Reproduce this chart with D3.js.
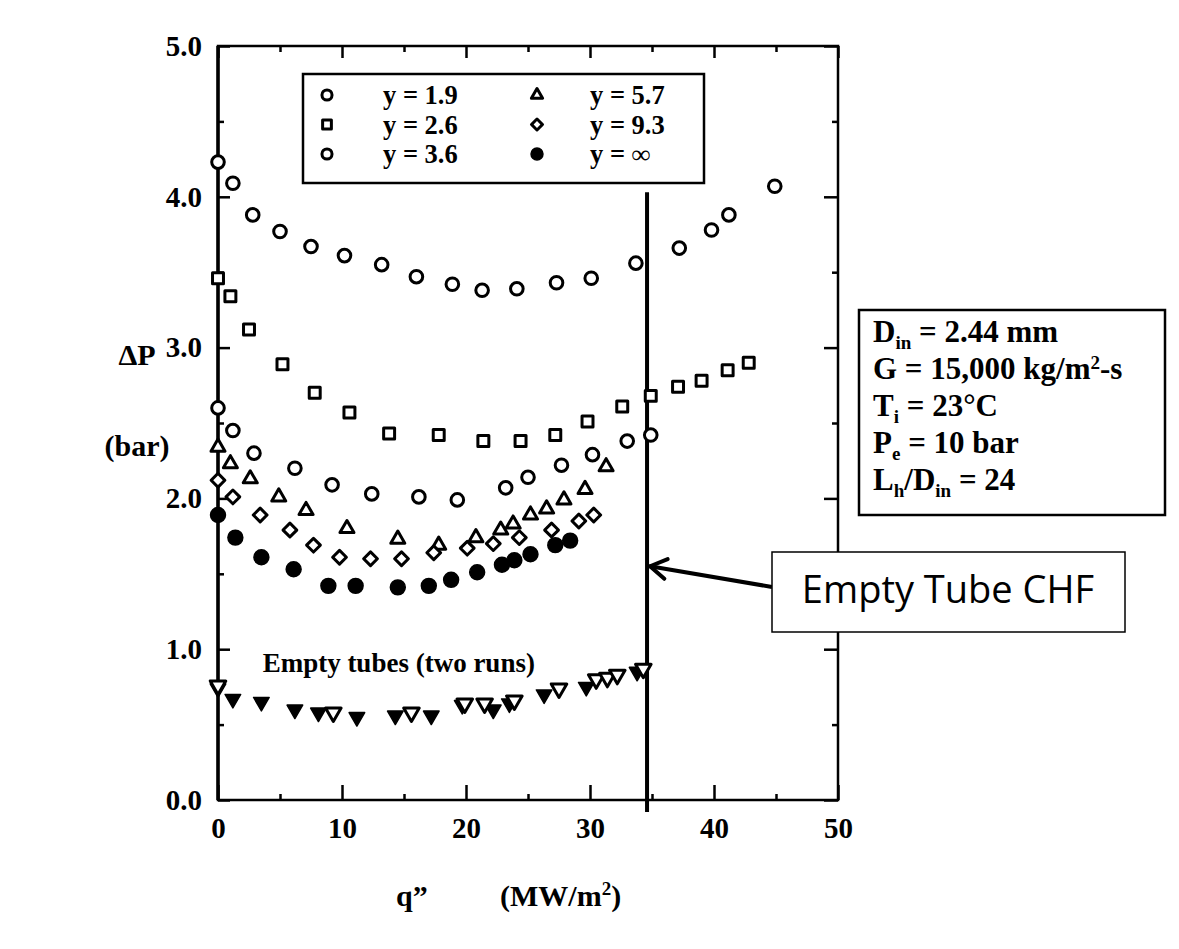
<!DOCTYPE html>
<html>
<head>
<meta charset="utf-8">
<script src="https://cdn.jsdelivr.net/npm/d3@7"></script>
<style>
  body { margin: 0; background: #fff; }
  svg { display: block; }
</style>
</head>
<body>
<svg id="chart" width="1179" height="949"></svg>
<script>
// Axis ticks
const qTicks = [0, 10, 20, 30, 40, 50];
const qMinor = [5, 15, 25, 35, 45];
const dpTicks = [0, 1, 2, 3, 4, 5];
const dpMinor = [0.5, 1.5, 2.5, 3.5, 4.5];

// Pressure drop (bar) versus heat flux (MW/m2), one list per twisted-tape ratio y
const ratio19 = [[0,4.23],[1.2,4.09],[2.8,3.88],[5.0,3.77],[7.5,3.67],[10.2,3.61],[13.2,3.55],[16.0,3.47],[18.9,3.42],[21.3,3.38],[24.1,3.39],[27.3,3.43],[30.1,3.46],[33.7,3.56],[37.2,3.66],[39.8,3.78],[41.2,3.88],[44.9,4.07]];
const ratio26 = [[0,3.46],[1.0,3.34],[2.5,3.12],[5.2,2.89],[7.8,2.70],[10.6,2.57],[13.8,2.43],[17.8,2.42],[21.4,2.38],[24.4,2.38],[27.2,2.42],[29.8,2.51],[32.6,2.61],[34.9,2.68],[37.1,2.74],[39.0,2.78],[41.1,2.85],[42.8,2.90]];
const ratio36 = [[0,2.60],[1.2,2.45],[2.9,2.30],[6.2,2.20],[9.2,2.09],[12.4,2.03],[16.2,2.01],[19.3,1.99],[23.2,2.07],[25.0,2.14],[27.7,2.22],[30.2,2.29],[33.0,2.38],[34.9,2.42]];
const ratio57 = [[0,2.34],[1.0,2.23],[2.6,2.13],[4.9,2.01],[7.1,1.92],[10.4,1.80],[14.5,1.73],[17.8,1.69],[20.8,1.74],[22.8,1.79],[23.8,1.83],[25.2,1.89],[26.5,1.93],[27.9,1.99],[29.6,2.06],[31.3,2.21]];
const ratio93 = [[0,2.12],[1.2,2.01],[3.4,1.89],[5.8,1.79],[7.7,1.69],[9.8,1.61],[12.3,1.60],[14.8,1.60],[17.4,1.64],[20.1,1.67],[22.2,1.70],[24.3,1.74],[26.9,1.79],[29.1,1.85],[30.3,1.89]];
const ratioInf = [[0,1.89],[1.4,1.74],[3.5,1.61],[6.1,1.53],[8.9,1.42],[11.1,1.42],[14.5,1.41],[17.0,1.42],[18.8,1.46],[20.9,1.51],[22.9,1.56],[23.9,1.59],[25.2,1.63],[27.2,1.69],[28.4,1.72]];

// Empty tubes, two runs
const emptyRun1 = [[0,0.74],[1.2,0.67],[3.5,0.65],[6.2,0.60],[8.1,0.58],[11.2,0.55],[14.3,0.56],[17.2,0.56],[19.7,0.63],[22.2,0.60],[23.5,0.64],[26.3,0.70],[29.7,0.75],[33.8,0.85]];
const emptyRun2 = [[0,0.76],[9.3,0.58],[15.6,0.58],[19.9,0.64],[21.5,0.64],[23.9,0.66],[27.5,0.74],[30.5,0.80],[31.4,0.81],[32.2,0.83],[34.3,0.87]];

// Critical heat flux of the empty tube (MW/m2)
const chfEmpty = 34.6;

const legendLabels = ["y = 1.9", "y = 2.6", "y = 3.6", "y = 5.7", "y = 9.3", "y = \u221E"];

// ---------------------------------------------------------------------------
const series = [
  { data: ratio19, shape: "circle", filled: false },
  { data: ratio26, shape: "square", filled: false },
  { data: ratio36, shape: "circle", filled: false },
  { data: ratio57, shape: "triangle", filled: false },
  { data: ratio93, shape: "diamond", filled: false },
  { data: ratioInf, shape: "dot", filled: true },
  { data: emptyRun1, shape: "down", filled: true },
  { data: emptyRun2, shape: "down", filled: false }
];

const svg = d3.select("#chart");
const serif = "'Liberation Serif', 'Times New Roman', serif";

const x = d3.scaleLinear().domain([0, 50]).range([218, 838]);
const y = d3.scaleLinear().domain([0, 5]).range([800, 46]);

// marker path generator
function markerPath(shape, scale = 1) {
  const s = scale;
  switch (shape) {
    case "circle": return d3.symbol(d3.symbolCircle, 125 * s * s)();
    case "square": return d3.symbol(d3.symbolSquare, 120 * s * s)();
    case "triangle": return d3.symbol(d3.symbolTriangle, 85 * s * s)();
    case "diamond": return d3.symbol(d3.symbolSquare, 95 * s * s)();
    case "dot": return d3.symbol(d3.symbolCircle, 175 * s * s)();
    case "down": return d3.symbol(d3.symbolTriangle, 105 * s * s)();
  }
}
function rotation(shape) {
  if (shape === "diamond") return 45;
  if (shape === "down") return 180;
  return 0;
}
function drawMarkers(g, s, pts, scale = 1) {
  g.selectAll(null).data(pts).enter().append("path")
    .attr("d", markerPath(s.shape, scale))
    .attr("transform", d => `translate(${d[0]},${d[1]}) rotate(${rotation(s.shape)})`)
    .attr("fill", s.filled ? "#000" : "#fff")
    .attr("stroke", "#000")
    .attr("stroke-width", s.filled ? 1.5 : 3)
    .attr("stroke-linejoin", "round");
}

// ---- axes -----------------------------------------------------------------
function styleAxis(g, fontSize) {
  g.select(".domain").remove();
  g.selectAll("line").attr("stroke", "#000").attr("stroke-width", 2.5);
  g.selectAll("text").attr("font-family", serif).attr("font-weight", "bold")
    .attr("font-size", fontSize).attr("fill", "#000");
}

svg.append("g").attr("transform", "translate(0,800)")
  .call(d3.axisBottom(x).tickValues(qTicks).tickFormat(d3.format("d")).tickSizeInner(-15).tickSizeOuter(0).tickPadding(17))
  .call(g => styleAxis(g, 29));
svg.append("g").attr("transform", "translate(0,800)")
  .call(d3.axisBottom(x).tickValues(qMinor).tickFormat("").tickSizeInner(-6).tickSizeOuter(0))
  .call(g => styleAxis(g, 29));
svg.append("g").attr("transform", "translate(0,46)")
  .call(d3.axisTop(x).tickValues(qTicks).tickFormat("").tickSizeInner(-12).tickSizeOuter(0))
  .call(g => styleAxis(g, 29));
svg.append("g").attr("transform", "translate(0,46)")
  .call(d3.axisTop(x).tickValues(qMinor).tickFormat("").tickSizeInner(-6).tickSizeOuter(0))
  .call(g => styleAxis(g, 29));

svg.append("g").attr("transform", "translate(218,0)")
  .call(d3.axisLeft(y).tickValues(dpTicks).tickFormat(d3.format(".1f")).tickSizeInner(-12).tickSizeOuter(0).tickPadding(16))
  .call(g => styleAxis(g, 29));
svg.append("g").attr("transform", "translate(218,0)")
  .call(d3.axisLeft(y).tickValues(dpMinor).tickFormat("").tickSizeInner(-6).tickSizeOuter(0))
  .call(g => styleAxis(g, 29));
svg.append("g").attr("transform", "translate(838,0)")
  .call(d3.axisRight(y).tickValues(dpTicks).tickFormat("").tickSizeInner(-14).tickSizeOuter(0))
  .call(g => styleAxis(g, 29));
svg.append("g").attr("transform", "translate(838,0)")
  .call(d3.axisRight(y).tickValues(dpMinor).tickFormat("").tickSizeInner(-6).tickSizeOuter(0))
  .call(g => styleAxis(g, 29));

// frame
svg.append("rect")
  .attr("x", x(0)).attr("y", y(5))
  .attr("width", x(50) - x(0)).attr("height", y(0) - y(5))
  .attr("fill", "none").attr("stroke", "#000").attr("stroke-width", 2.5);
svg.append("line")
  .attr("x1", x(0)).attr("x2", x(0)).attr("y1", y(5)).attr("y2", y(0))
  .attr("stroke", "#000").attr("stroke-width", 3.5);

// axis titles
svg.append("text").attr("x", 137).attr("y", 365)
  .attr("text-anchor", "middle").attr("font-family", serif).attr("font-weight", "bold")
  .attr("font-size", 30).text("\u0394P");
svg.append("text").attr("x", 137).attr("y", 456)
  .attr("text-anchor", "middle").attr("font-family", serif).attr("font-weight", "bold")
  .attr("font-size", 30).text("(bar)");
const xt = svg.append("text").attr("y", 906)
  .attr("font-family", serif).attr("font-weight", "bold").attr("font-size", 30);
xt.append("tspan").attr("x", 396).text("q\u201D");
xt.append("tspan").attr("x", 500).text("(MW/m");
xt.append("tspan").attr("dy", -11).attr("font-size", 19).text("2");
xt.append("tspan").attr("dy", 11).text(")");

// CHF line of the empty tube
svg.append("line")
  .attr("x1", x(chfEmpty)).attr("x2", x(chfEmpty))
  .attr("y1", y(4.03)).attr("y2", y(0) + 12)
  .attr("stroke", "#000").attr("stroke-width", 4);

// data markers
const plot = svg.append("g");
series.forEach(s => {
  const pts = s.data.map(d => [x(d[0]), y(d[1])]);
  drawMarkers(plot.append("g"), s, pts);
});

// empty-tube note
svg.append("text").attr("x", x(3.6)).attr("y", y(0.85))
  .attr("font-family", serif).attr("font-weight", "bold").attr("font-size", 27)
  .text("Empty tubes (two runs)");

// legend
const lg = svg.append("g");
lg.append("rect").attr("x", 303).attr("y", 74).attr("width", 401).attr("height", 109)
  .attr("fill", "#fff").attr("stroke", "#000").attr("stroke-width", 2.5);
series.slice(0, 6).forEach((s, i) => {
  const col = Math.floor(i / 3), row = i % 3;
  const mx = col === 0 ? 327 : 537;
  const tx = col === 0 ? 383 : 590;
  const cy = 95 + row * 29.5;
  drawMarkers(lg.append("g"), s, [[mx, cy]], 0.8);
  lg.append("text").attr("x", tx).attr("y", cy + 9)
    .attr("font-family", serif).attr("font-weight", "bold").attr("font-size", 26.5)
    .text(legendLabels[i]);
});

// conditions box
const cb = svg.append("g");
cb.append("rect").attr("x", 859).attr("y", 310).attr("width", 306).attr("height", 205)
  .attr("fill", "#fff").attr("stroke", "#000").attr("stroke-width", 2.5);
const lines = [
  [["D", 0], ["in", 1], [" = 2.44 mm", 0]],
  [["G = 15,000 kg/m", 0], ["2", 2], ["-s", 0]],
  [["T", 0], ["i", 1], [" = 23\u00B0C", 0]],
  [["P", 0], ["e", 1], [" = 10 bar", 0]],
  [["L", 0], ["h", 1], ["/D", 0], ["in", 1], [" = 24", 0]]
];
lines.forEach((ln, i) => {
  const t = cb.append("text").attr("x", 873).attr("y", 342 + i * 37)
    .attr("font-family", serif).attr("font-weight", "bold").attr("font-size", 31);
  let shift = 0;
  ln.forEach(([str, kind]) => {
    const target = kind === 1 ? 7 : kind === 2 ? -10 : 0;
    const sp = t.append("tspan").attr("dy", target - shift).text(str);
    if (kind) sp.attr("font-size", 19);
    shift = target;
  });
});

// callout
const tipX = x(chfEmpty) + 3, tipY = y(1.55);
const boxX = 772, boxY = 552;
svg.append("line").attr("x1", boxX).attr("y1", boxY + 35).attr("x2", tipX).attr("y2", tipY)
  .attr("stroke", "#000").attr("stroke-width", 4);
const ang = Math.atan2(boxY + 35 - tipY, boxX - tipX);
[0.55, -0.55].forEach(da => {
  svg.append("line").attr("x1", tipX).attr("y1", tipY)
    .attr("x2", tipX + 19 * Math.cos(ang + da)).attr("y2", tipY + 19 * Math.sin(ang + da))
    .attr("stroke", "#000").attr("stroke-width", 4).attr("stroke-linecap", "round");
});
svg.append("rect").attr("x", boxX).attr("y", boxY).attr("width", 353).attr("height", 80)
  .attr("fill", "#fff").attr("stroke", "#000").attr("stroke-width", 1.5);
svg.append("text").attr("x", boxX + 176).attr("y", boxY + 51)
  .attr("text-anchor", "middle").attr("font-family", "'Open Sans', 'Noto Sans', sans-serif")
  .attr("font-size", 38).text("Empty Tube CHF");
</script>
</body>
</html>
